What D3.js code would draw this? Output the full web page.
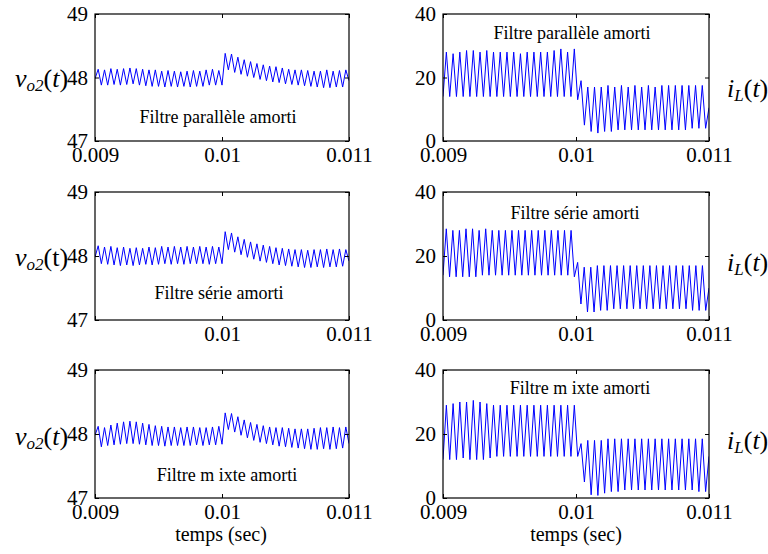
<!DOCTYPE html>
<html><head><meta charset="utf-8">
<script src="https://cdn.jsdelivr.net/npm/d3@7"></script>
<style>
html,body{margin:0;padding:0;background:#fff;}
svg{display:block;}
svg text{font-family:'Liberation Serif','Times New Roman',Tinos,'DejaVu Serif',serif;fill:#000;}
</style></head>
<body>
<svg id="chart" width="768" height="554"></svg>
<script>
// ---- data ----
const xDomain = [0.009, 0.011];
const xTickValues = [0.009, 0.01, 0.011];
const xTickLabels = ["0.009", "0.01", "0.011"];
const vTickValues = [47, 48, 49];
const vTickLabels = ["47", "48", "49"];
const iTickValues = [0, 20, 40];
const iTickLabels = ["0", "20", "40"];
const titles = ["Filtre parallèle amorti", "Filtre série amorti", "Filtre m ixte amorti"];

// alternating trough / peak samples, half switching period apart, 0.009 s -> 0.011 s
const vParallele = [47.98,48.13,47.88,48.12,47.88,48.14,47.89,48.13,47.88,48.14,47.89,48.15,47.90,48.14,47.88,48.13,47.87,48.12,47.86,48.12,47.86,48.10,47.85,48.11,47.86,48.10,47.85,48.09,47.86,48.10,47.85,48.11,47.86,48.10,47.86,48.12,47.88,48.13,47.88,48.11,47.88,
  48.38,48.12,48.37,48.08,48.32,48.05,48.28,48.02,48.25,48.00,48.22,47.97,48.20,47.95,48.18,47.93,48.17,47.92,48.15,47.90,48.13,47.89,48.12,47.88,48.12,47.87,48.11,47.86,48.10,47.85,48.10,47.84,48.12,47.84,48.10,47.85,48.11,47.85,48.12,47.95];
const vSerie = [47.98,48.16,47.88,48.14,47.87,48.15,47.86,48.13,47.85,48.14,47.86,48.12,47.85,48.13,47.86,48.12,47.87,48.14,47.86,48.13,47.87,48.15,47.88,48.14,47.87,48.15,47.88,48.14,47.87,48.15,47.88,48.14,47.88,48.15,47.88,48.14,47.87,48.15,47.88,48.14,47.88,
  48.38,48.10,48.36,48.06,48.30,48.02,48.26,47.98,48.22,47.95,48.19,47.92,48.17,47.90,48.15,47.88,48.13,47.86,48.12,47.85,48.11,47.84,48.10,47.83,48.10,47.82,48.09,47.82,48.10,47.83,48.10,47.82,48.11,47.83,48.10,47.83,48.11,47.84,48.10,47.92];
const vMixte = [47.98,48.12,47.80,48.10,47.82,48.14,47.83,48.17,47.84,48.19,47.85,48.20,47.85,48.19,47.84,48.17,47.83,48.15,47.82,48.13,47.82,48.12,47.81,48.11,47.82,48.11,47.82,48.10,47.82,48.11,47.82,48.11,47.83,48.10,47.82,48.10,47.83,48.11,47.83,48.12,47.84,
  48.33,48.07,48.32,48.03,48.27,47.98,48.22,47.94,48.18,47.90,48.15,47.87,48.13,47.85,48.11,47.83,48.10,47.81,48.10,47.80,48.09,47.79,48.08,47.78,48.08,47.77,48.08,47.76,48.09,47.76,48.10,47.77,48.10,47.76,48.11,47.77,48.10,47.78,48.11,47.85];
const iParallele = [14,28,14,27.5,14,28,14,28.5,14,28.5,14,28,14,28.5,14,28,14,28,14,28,14,28,14,27.5,14,28,14,28,14,28,14,28,14,28.5,14,29,14,28,14,29,13,
  19,5,17,3,17,2.5,17,3,17.5,3,17,3.5,17.5,3.5,17,3.5,17.5,3.5,17,3.5,17.5,3.5,17,3.5,17.5,3.5,17.5,3.5,17.5,3.5,17.5,3.5,17.5,4,17.5,4,17.5,4,10.5];
const iSerie = [14,28.5,13.5,28,13.5,28,13.5,28.5,13.5,28.5,13.5,28,14,28.5,14,28,14,28,14,28,14,28,14,28,14,28,14,28,14,28,14,28,14,28,14,28,14,28,14,28,13.5,
  18,5,16.5,2.5,16.5,2.5,17,3,17,3,17,3.5,17,3.5,17,3.5,17,3.5,17,3.5,17,3.5,17,3.5,17,3.5,17,3.5,17,3.5,17,3.5,17,3.5,17,3,17,3,17,3,10];
const iMixte = [12,29,12,29.5,12,30,12.5,30,12,30.5,12,30,12,29.5,12.5,29,13,29,13,29,13,29,13,29,13,29,13,29,13,29,13,29,13,29,13,29,13,29,13,29,13,
  17,5,18,1,18,0.8,18,1.5,18.5,2,18.5,2,18.5,2.5,18.5,2.5,18.5,2.5,18.5,2.5,18.5,2.5,18.5,2.5,18.5,2.5,18.5,2.5,18.5,2.5,18.5,2.5,18.5,2.5,18.5,2,18.5,2,13];

const leftSeries = [vParallele, vSerie, vMixte];
const rightSeries = [iParallele, iSerie, iMixte];

// ---- layout ----
const svg = d3.select("#chart");
const rowsY = [[14,141],[192,320],[370,498]];
const leftX = [95, 349];
const rightX = [443, 709];
const serif = "'Liberation Serif','Times New Roman',Tinos,serif";

function panel(xr, yr, yDomain, yTicks, yLabels, series, opts) {
  const x = d3.scaleLinear().domain(xDomain).range(xr);
  const y = d3.scaleLinear().domain(yDomain).range([yr[1], yr[0]]);
  const g = svg.append("g");
  const id = "clip" + Math.round(xr[0]) + "_" + Math.round(yr[0]);
  g.append("clipPath").attr("id", id).append("rect")
    .attr("x", xr[0]).attr("y", yr[0]).attr("width", xr[1]-xr[0]).attr("height", yr[1]-yr[0]);
  const step = (xDomain[1]-xDomain[0])/(series.length-1);
  const line = d3.line().x((d,i)=>x(xDomain[0]+i*step)).y(d=>y(d));
  g.append("path").datum(series).attr("clip-path","url(#"+id+")")
    .attr("fill","none").attr("stroke","#0000ff").attr("stroke-width",1).attr("d", line);

  const fmtX = d => { const k = xTickValues.indexOf(d); return (opts.hideFirstX && k===0) ? "" : xTickLabels[k]; };
  const fmtY = d => yLabels[yTicks.indexOf(d)];
  const bottom = g.append("g").attr("transform","translate(0,"+yr[1]+")")
    .call(d3.axisBottom(x).tickValues(xTickValues).tickFormat(fmtX).tickSize(-4).tickPadding(6).tickSizeOuter(0));
  const top = g.append("g").attr("transform","translate(0,"+yr[0]+")")
    .call(d3.axisTop(x).tickValues(xTickValues).tickFormat("").tickSize(-4).tickSizeOuter(0));
  const left = g.append("g").attr("transform","translate("+xr[0]+",0)")
    .call(d3.axisLeft(y).tickValues(yTicks).tickFormat(fmtY).tickSize(-4).tickPadding(7).tickSizeOuter(0));
  const right = g.append("g").attr("transform","translate("+xr[1]+",0)")
    .call(d3.axisRight(y).tickValues(yTicks).tickFormat("").tickSize(-4).tickSizeOuter(0));
  [bottom, top, left, right].forEach(a => {
    a.attr("font-family", null).attr("font-size", null);
    a.select(".domain").remove();
    a.selectAll("line").attr("stroke","#000");
    a.selectAll("text").attr("fill","#000").style("font-family", serif).style("font-size","21px");
  });
  g.append("rect").attr("x", xr[0]).attr("y", yr[0]).attr("width", xr[1]-xr[0]).attr("height", yr[1]-yr[0])
    .attr("fill","none").attr("stroke","#000").attr("stroke-width",1.2);
  g.append("text").attr("x", opts.titleX).attr("y", opts.titleY).attr("text-anchor","middle")
    .style("font-family", serif).style("font-size","18px").text(opts.title);
  return {x, y};
}

const leftTitlePos = [[218,123],[219,299],[227,481]];
const rightTitlePos = [[572,39],[575,219],[580,394]];
for (let r = 0; r < 3; r++) {
  panel(leftX, rowsY[r], [47,49], vTickValues, vTickLabels, leftSeries[r],
    {hideFirstX: r===1, title: titles[r], titleX: leftTitlePos[r][0], titleY: leftTitlePos[r][1]});
  panel(rightX, rowsY[r], [0,40], iTickValues, iTickLabels, rightSeries[r],
    {hideFirstX: false, title: titles[r], titleX: rightTitlePos[r][0], titleY: rightTitlePos[r][1]});

  // left y label v_o2(t)
  const by = [87, 266, 445][r];
  const tl = svg.append("text").attr("x", 15).attr("y", by).style("font-family", serif).style("font-size","26px");
  tl.append("tspan").attr("font-style","italic").text("v");
  tl.append("tspan").attr("font-style","italic").style("font-size","17px").attr("dy",4).text("o2");
  tl.append("tspan").attr("dy",-4).text("(");
  tl.append("tspan").attr("font-style", r===1 ? "normal" : "italic").text("t");
  tl.append("tspan").text(")");

  // right y label i_L(t)
  const ry = [97, 271, 449][r];
  const tr = svg.append("text").attr("x", 727).attr("y", ry).style("font-family", serif).style("font-size","26px");
  tr.append("tspan").attr("font-style","italic").text("i");
  tr.append("tspan").attr("font-style","italic").style("font-size","17px").attr("dy",4).text("L");
  tr.append("tspan").attr("dy",-4).text("(");
  tr.append("tspan").attr("font-style","italic").text("t");
  tr.append("tspan").text(")");
}

svg.append("text").attr("x", 221).attr("y", 541).attr("text-anchor","middle").style("font-family", serif).style("font-size","20px").text("temps (sec)");
svg.append("text").attr("x", 576).attr("y", 541).attr("text-anchor","middle").style("font-family", serif).style("font-size","20px").text("temps (sec)");
</script>
</body></html>
